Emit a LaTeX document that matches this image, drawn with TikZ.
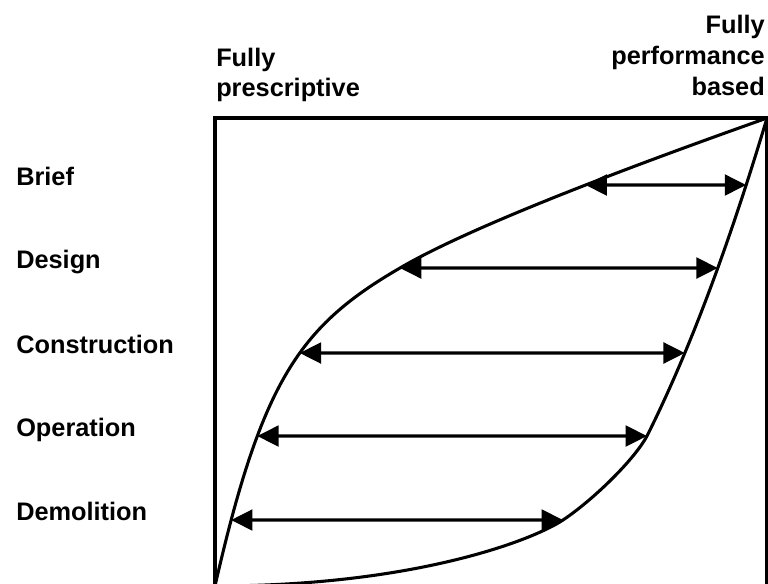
\documentclass[tikz,border=0pt]{standalone}
\usepackage{fontspec}
\setmainfont{Liberation Sans}
\usetikzlibrary{arrows.meta,intersections}
\begin{document}
\begin{tikzpicture}[x=0.75pt,y=-0.75pt,
  frame/.style={line width=2.3pt, line join=miter},
  curve/.style={line width=2.3pt, line join=round},
  span/.style={line width=2.4pt,
    {Triangle[length=16pt,width=15.5pt]}-{Triangle[length=16pt,width=15.5pt]}},
  lbl/.style={font=\bfseries\fontsize{19}{22}\selectfont, inner sep=0pt}]
\useasboundingbox (0,0) rectangle (768,583);

% frame of the chart (bottom edge falls below the page)
\draw[frame] (215,600) -- (215,118) -- (766.5,118) -- (766.5,600);

\coordinate (lo) at (215,586);
\coordinate (hi) at (767,118);
\coordinate (um) at (400,268);
\coordinate (lm1) at (563,520);
\coordinate (lm2) at (647,436);

% upper and lower boundary curves
\draw[curve, name path=upper] (lo)
  .. controls (262,380) and (300,326) .. (um)
  .. controls (485,218) and (697,143) .. (hi);
\draw[curve, name path=lower] (lo)
  .. controls (415,586) and (533,540) .. (lm1)
  .. controls (593,500) and (634,460) .. (lm2)
  .. controls (697,336) and (737,218) .. (hi);

% stage levels, where each span meets the two curves
\foreach \n/\y in {b/185, d/268, c/353, o/436, m/520}{
  \path[name path=lev\n] (200,\y) -- (780,\y);
  \path[name intersections={of=upper and lev\n, by=\n1}];
  \path[name intersections={of=lower and lev\n, by=\n2}];
}

% stage spans
\draw[span] (b1) -- (b2);
\draw[span] (d1) -- (d2);
\draw[span] (c1) -- (c2);
\draw[span] (o1) -- (o2);
\draw[span] (m1) -- (m2);

% stage labels
\node[lbl, anchor=base west] (tbrief) at (16,185) {Brief};
\node[lbl, anchor=base west] (tdesign) at (16,268) {Design};
\node[lbl, anchor=base west] (tconstr) at (16,353) {Construction};
\node[lbl, anchor=base west] (toper) at (16,436) {Operation};
\node[lbl, anchor=base west] (tdemol) at (16,520) {Demolition};

% axis end labels
\node[lbl, anchor=base west] (pre1) at (216,66) {Fully};
\node[lbl, anchor=base west] (pre2) at (216,96) {prescriptive};
\node[lbl, anchor=base east] (perf1) at (765,33) {Fully};
\node[lbl, anchor=base east] (perf2) at (765,64) {performance};
\node[lbl, anchor=base east] (perf3) at (765,95) {based};
\end{tikzpicture}
\end{document}
